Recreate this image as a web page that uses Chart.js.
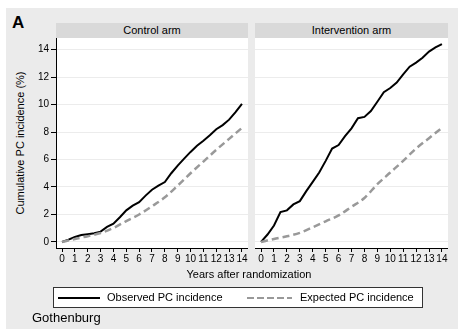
<!DOCTYPE html>
<html lang="en">
<head>
    <meta charset="UTF-8">
    <title>Cumulative PC incidence</title>
    <script src="https://cdn.jsdelivr.net/npm/chart.js"></script>
    <style>
        body {
            margin: 0;
            background: #fff;
            font-family: 'Liberation Sans', Arial, sans-serif;
            width: 458px;
            height: 331px;
            position: relative;
            overflow: hidden;
        }
        .abs { position: absolute; }
        #frame { left: 6px; top: 8px; width: 452px; height: 321px; background: #ebebeb; }
        #panelLetter { left: 12px; top: 14px; font-size: 17px; line-height: 17px; font-weight: bold; color: #000; }
        .strip {
            top: 23px; height: 15px; background: #d9d9d9;
            font-size: 11px; line-height: 15px; text-align: center; color: #000;
        }
        #yTitle {
            left: 20px; top: 143px; font-size: 11px; white-space: nowrap;
            transform: translate(-50%, -50%) rotate(-90deg);
        }
        #xTitle { left: 0; width: 458px; top: 268px; font-size: 11px; text-align: center; margin-left: 20px; }
        #legend {
            left: 53px; top: 287px; width: 368px; height: 19px;
            background: #fff; border: 1px solid #333; font-size: 11px;
        }
        .item { position: absolute; top: 3px; line-height: 13px; }
        .sample { position: absolute; top: 9px; width: 42px; height: 2px; }
        .dashed { background: repeating-linear-gradient(to right, #999 0 7px, transparent 7px 10px); }
        #gothenburg { left: 32px; top: 310px; font-size: 13px; }
    </style>
</head>
<body>
    <div id="frame" class="abs"></div>
    <div id="panelLetter" class="abs">A</div>
    <div class="abs strip" style="left:56px; width:192px;">Control arm</div>
    <div class="abs strip" style="left:255px; width:193px;">Intervention arm</div>
    <div id="yTitle" class="abs">Cumulative PC incidence (%)</div>

    <canvas id="controlChart" class="abs" width="222" height="232" style="left:26px; top:38px;"></canvas>
    <canvas id="interventionChart" class="abs" width="193" height="232" style="left:255px; top:38px;"></canvas>

    <div id="xTitle" class="abs">Years after randomization</div>

    <div id="legend" class="abs">
        <div class="sample" style="left:4px; background:#000;"></div>
        <div class="item" style="left:53px;">Observed PC incidence</div>
        <div class="sample dashed" style="left:193px; width:45px;"></div>
        <div class="item" style="left:246px;">Expected PC incidence</div>
    </div>
    <div id="gothenburg" class="abs">Gothenburg</div>

    <script>
        // years for the observed curves (half-year steps)
        const years = [0, 0.5, 1, 1.5, 2, 2.5, 3, 3.5, 4, 4.5, 5, 5.5, 6, 6.5, 7, 7.5,
                       8, 8.5, 9, 9.5, 10, 10.5, 11, 11.5, 12, 12.5, 13, 13.5, 14];
        const controlObserved = [0, 0.17, 0.36, 0.5, 0.56, 0.63, 0.75, 1.1, 1.33, 1.8, 2.3, 2.64, 2.9, 3.37, 3.8, 4.1,
                                 4.36, 5.0, 5.55, 6.06, 6.55, 7.0, 7.37, 7.76, 8.2, 8.5, 8.9, 9.45, 10.05];
        const interventionObserved = [0, 0.54, 1.2, 2.17, 2.3, 2.73, 2.97, 3.7, 4.37, 5.05, 5.9, 6.8, 7.05, 7.7, 8.27, 9.0,
                                      9.1, 9.53, 10.2, 10.9, 11.2, 11.6, 12.2, 12.75, 13.05, 13.4, 13.85, 14.15, 14.4];

        // expected curves (whole years)
        const expectedYears = [0, 1, 2, 3, 4, 5, 6, 7, 8, 9, 10, 11, 12, 13, 14];
        const controlExpected = [0, 0.22, 0.42, 0.65, 1.02, 1.52, 2.0, 2.6, 3.25, 4.1, 5.0, 5.85, 6.7, 7.5, 8.3];
        const interventionExpected = [0, 0.22, 0.41, 0.66, 1.07, 1.5, 1.93, 2.56, 3.2, 4.2, 5.05, 5.9, 6.8, 7.55, 8.3];

        // tick labels
        const xTicks = [0, 1, 2, 3, 4, 5, 6, 7, 8, 9, 10, 11, 12, 13, 14];
        const yTicks = [0, 2, 4, 6, 8, 10, 12, 14];

        const fontFamily = "'Liberation Sans', Arial, sans-serif";

        // white plot background
        const plotBackground = {
            id: 'plotBackground',
            beforeDraw(chart) {
                const a = chart.chartArea;
                chart.ctx.save();
                chart.ctx.fillStyle = '#fff';
                chart.ctx.fillRect(a.left, a.top, a.right - a.left, a.bottom - a.top);
                chart.ctx.restore();
            }
        };

        function makeChart(id, observed, expected, showY) {
            const ctx = document.getElementById(id).getContext('2d');
            return new Chart(ctx, {
                type: 'line',
                data: {
                    datasets: [{
                        label: 'Expected PC incidence',
                        data: expectedYears.map((x, i) => ({ x: x, y: expected[i] })),
                        borderColor: '#999',
                        borderWidth: 2.5,
                        borderDash: [7, 4],
                        pointRadius: 0,
                        cubicInterpolationMode: 'monotone'
                    }, {
                        label: 'Observed PC incidence',
                        data: years.map((x, i) => ({ x: x, y: observed[i] })),
                        borderColor: '#000',
                        borderWidth: 2,
                        pointRadius: 0,
                        tension: 0
                    }]
                },
                options: {
                    responsive: false,
                    animation: false,
                    devicePixelRatio: 1,
                    layout: { padding: 0 },
                    plugins: { legend: { display: false }, tooltip: { enabled: false } },
                    scales: {
                        x: {
                            type: 'linear',
                            min: -0.47,
                            max: 14.47,
                            afterBuildTicks: s => { s.ticks = xTicks.map(v => ({ value: v })); },
                            afterFit: s => { s.height = 22; s.paddingLeft = 0; s.paddingRight = 0; },
                            grid: { drawOnChartArea: false, tickColor: '#000', tickLength: 4 },
                            border: { color: '#000', width: 1 },
                            ticks: {
                                color: '#000', padding: 1, maxRotation: 0, autoSkip: false,
                                font: { size: 10, family: fontFamily }
                            }
                        },
                        y: {
                            type: 'linear',
                            min: -0.44,
                            max: 14.84,
                            afterBuildTicks: s => { s.ticks = yTicks.map(v => ({ value: v })); },
                            afterFit: s => { s.width = showY ? 30 : 0; s.paddingTop = 0; s.paddingBottom = 0; },
                            grid: { color: '#ececec', tickColor: '#000', tickLength: 5, drawTicks: showY },
                            border: { display: showY, color: '#000', width: 1 },
                            ticks: {
                                display: showY, color: '#000', padding: 2,
                                font: { size: 10, family: fontFamily }
                            }
                        }
                    }
                },
                plugins: [plotBackground]
            });
        }

        makeChart('controlChart', controlObserved, controlExpected, true);
        makeChart('interventionChart', interventionObserved, interventionExpected, false);
    </script>
</body>
</html>
